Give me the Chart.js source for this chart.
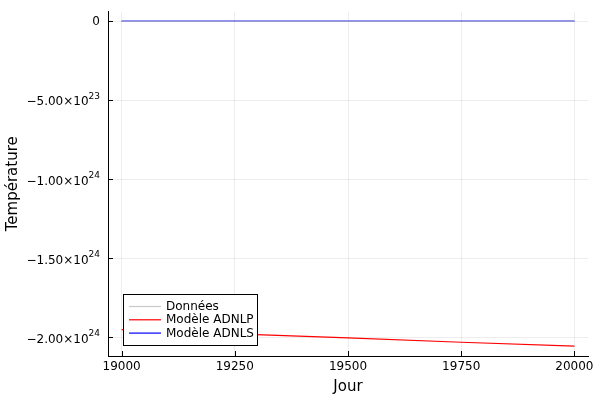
<!DOCTYPE html>
<html>
<head>
<meta charset="utf-8">
<script src="https://cdn.jsdelivr.net/npm/chart.js@4"></script>
<style>
  html, body { margin: 0; padding: 0; background: #fff; }
  #wrap { width: 600px; height: 400px; }
</style>
</head>
<body>
<div id="wrap"><canvas id="graf"></canvas></div>
<script>
// valeurs
const jours = [19000, 19250, 19500, 19750, 20000];
const donnees = [0, 0, 0, 0, 0];
const modeleADNLP = [-1.950e24, -1.977e24, -2.002e24, -2.030e24, -2.055e24];
const modeleADNLS = [0, 0, 0, 0, 0];
const ticksX = [19000, 19250, 19500, 19750, 20000];
const ticksY = [0, -5e23, -1e24, -1.5e24, -2e24];

// découpe une valeur en "−5.00×10" et "23"
function splitY(v) {
    if (v === 0) return ['0', ''];
    const e = Math.floor(Math.log10(Math.abs(v)) + 1e-9);
    const m = Math.abs(v) / Math.pow(10, e);
    return [(v < 0 ? '\u2212' : '') + m.toFixed(2) + '×10', String(e)];
}

function points(ys) {
    return jours.map((x, i) => ({ x: x, y: ys[i] }));
}

// graduations vers l'intérieur, étiquettes y avec exposant, légende dans le coin
const decor = {
    id: 'decor',
    afterDraw(chart) {
        const c = chart.ctx;
        const a = chart.chartArea;
        const sx = chart.scales.x, sy = chart.scales.y;
        c.save();
        c.strokeStyle = '#000';
        c.lineWidth = 1;
        c.beginPath();
        ticksX.forEach(t => {
            const px = Math.round(sx.getPixelForValue(t)) + 0.5;
            c.moveTo(px, a.bottom); c.lineTo(px, a.bottom - 5);
        });
        ticksY.forEach(t => {
            const py = Math.round(sy.getPixelForValue(t)) + 0.5;
            c.moveTo(a.left, py); c.lineTo(a.left + 5, py);
        });
        c.stroke();

        // étiquettes de l'axe y
        c.fillStyle = '#000';
        c.textBaseline = 'middle';
        ticksY.forEach(t => {
            const py = sy.getPixelForValue(t);
            const [base, exp] = splitY(t);
            const right = a.left - 8;
            if (!exp) {
                c.font = '12px "DejaVu Sans"';
                c.textAlign = 'right';
                c.fillText(base, right, py + 1);
                return;
            }
            c.font = '9px "DejaVu Sans"';
            const ew = c.measureText(exp).width;
            c.textAlign = 'left';
            c.fillText(exp, right - ew, py - 4);
            c.font = '12px "DejaVu Sans"';
            c.textAlign = 'right';
            c.fillText(base, right - ew, py + 2);
        });

        const bx = a.left + 15, by = a.bottom - 62, bw = 134, bh = 51;
        c.fillStyle = '#fff';
        c.fillRect(bx, by, bw, bh);
        c.strokeStyle = '#000';
        c.strokeRect(bx + 0.5, by + 0.5, bw, bh);
        c.font = '12px "DejaVu Sans"';
        c.textAlign = 'left';
        c.textBaseline = 'middle';
        chart.data.datasets.forEach((ds, i) => {
            const yy = by + 12.5 + i * 13.3;
            c.strokeStyle = ds.borderColor;
            c.lineWidth = 1.2;
            c.beginPath();
            c.moveTo(bx + 6, yy); c.lineTo(bx + 38, yy);
            c.stroke();
            c.fillStyle = '#000';
            c.fillText(ds.label, bx + 43, yy + 0.5);
        });
        c.restore();
    }
};

document.addEventListener('DOMContentLoaded', function () {
    const ctx = document.getElementById('graf').getContext('2d');
    new Chart(ctx, {
        type: 'line',
        data: {
            datasets: [
                { label: 'Données', data: points(donnees), borderColor: 'rgb(200,200,200)', borderWidth: 1, pointRadius: 0 },
                { label: 'Modèle ADNLP', data: points(modeleADNLP), borderColor: '#ff0000', borderWidth: 1.2, pointRadius: 0 },
                { label: 'Modèle ADNLS', data: points(modeleADNLS), borderColor: '#0000ff', borderWidth: 1.6, pointRadius: 0 }
            ]
        },
        options: {
            responsive: true,
            maintainAspectRatio: false,
            animation: false,
            layout: { padding: { top: 11.5, right: 12, left: 0, bottom: 0 } },
            plugins: {
                legend: { display: false },
                tooltip: { enabled: false }
            },
            scales: {
                x: {
                    type: 'linear',
                    min: 18970,
                    max: 20030,
                    afterBuildTicks: s => { s.ticks = ticksX.map(v => ({ value: v })); },
                    afterFit: s => { s.height = 44; },
                    ticks: { color: '#000', font: { family: 'DejaVu Sans', size: 12 }, padding: 4, maxRotation: 0, callback: v => String(v) },
                    grid: { color: 'rgba(0,0,0,0.07)', drawTicks: false },
                    border: { color: '#000', width: 1 },
                    title: { display: true, text: 'Jour', color: '#000', font: { family: 'DejaVu Sans', size: 15 }, padding: { top: 0 } }
                },
                y: {
                    min: -2.117e24,
                    max: 0.0617e24,
                    afterBuildTicks: s => { s.ticks = ticksY.map(v => ({ value: v })); },
                    afterFit: s => { s.width = 108; },
                    ticks: { display: false },
                    grid: { color: 'rgba(0,0,0,0.07)', drawTicks: false },
                    border: { color: '#000', width: 1 },
                    title: { display: true, text: 'Température', color: '#000', font: { family: 'DejaVu Sans', size: 15 }, padding: { bottom: 0 } }
                }
            }
        },
        plugins: [decor]
    });
});
</script>
</body>
</html>
